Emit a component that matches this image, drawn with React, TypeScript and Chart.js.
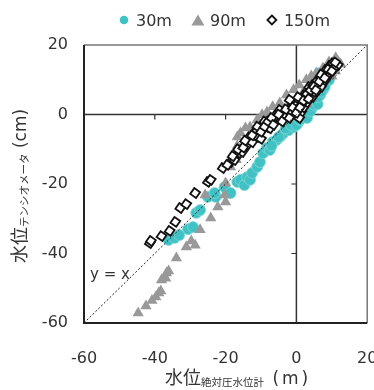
import React, { useEffect, useRef } from "react";
import { Chart, registerables } from "chart.js";

Chart.register(...registerables);

// ---- data ----
const xTicks = [-60, -40, -20, 0, 20];
const yTicks = [-60, -40, -20, 0, 20];
const seriesNames = ["30m", "90m", "150m"];

const x30 = [-36.1, -34.4, -33.1, -30.6, -29.2, -28.3, -27.2, -25.0, -22.8, -23.1, -20.3, -18.6, -16.7, -15.8, -14.7, -13.9, -13.1, -12.5, -11.1, -10.3, -9.4, -8.3, -7.5, -6.7, -5.6, -4.4, -3.6, -2.2, -0.8, 0.6, 1.9, 3.3, 4.7, 5.6, 6.7, 7.5, 8.3, 7.2, 6.4, 7.8, 9.2, -7.0, -5.0, -3.0, -1.5, 0.0, 1.0, 2.5, 3.0, 4.0, 5.0, 6.0, 6.0, 7.0, 8.0, 8.5];
const y30 = [-36.1, -35.5, -34.7, -33.0, -32.4, -28.3, -27.5, -23.7, -23.7, -22.6, -20.9, -22.6, -19.4, -18.8, -20.3, -18.0, -18.8, -16.8, -15.1, -13.7, -11.1, -9.6, -10.2, -7.9, -7.3, -6.2, -5.3, -4.5, -3.6, -2.2, -0.7, 0.7, 2.2, 4.2, 5.6, 7.1, 9.9, 11.1, 11.9, 12.2, 9.9, -9.0, -6.5, -4.0, -3.0, -3.0, -1.5, -0.5, -1.0, 1.0, 2.8, 3.0, 5.0, 6.5, 8.0, 13.0];

const x90 = [-44.7, -42.5, -40.8, -39.7, -38.9, -38.3, -38.1, -36.9, -36.7, -36.1, -33.9, -31.1, -29.7, -28.6, -27.2, -24.2, -22.2, -20.0, -25.8, -20.3, -20.0, -18.6, -17.0, -16.7, -16.7, -15.8, -14.4, -13.1, -11.1, -9.7, -8.3, -6.7, -4.7, -2.8, -0.8, 0.8, 2.8, 4.2, 5.6, 7.5, 9.2, 11.1, 11.9, 12.5, -14.0, -12.0, -12.0, -10.0, -8.0, -6.0, -4.0, -2.0, 0.0, 2.0, 4.0, 6.0, 8.0, 10.0, -3.0, 1.0, 3.0, 10.0, 11.0];
const y90 = [-57.1, -55.1, -53.5, -52.5, -51.4, -50.8, -47.6, -47.1, -45.6, -45.0, -41.3, -38.1, -36.4, -37.6, -33.2, -29.8, -26.6, -25.2, -23.2, -23.2, -19.7, -15.1, -13.0, -9.0, -6.5, -5.3, -3.9, -3.6, -1.6, -0.1, 0.7, 2.2, 3.3, 5.6, 7.1, 8.5, 10.0, 11.1, 11.9, 13.4, 15.1, 16.3, 15.1, 14.5, -8.0, -7.0, -5.0, -3.0, -1.5, 0.0, 1.5, 3.0, 4.5, 6.5, 8.5, 10.0, 11.5, 13.0, -1.0, 1.0, 3.0, 11.0, 12.5];

const x150 = [-41.4, -41.1, -38.1, -35.8, -34.2, -32.8, -31.1, -28.6, -25.0, -24.2, -20.8, -18.6, -17.5, -16.1, -15.3, -13.9, -13.3, -11.9, -11.1, -11.1, -9.7, -8.3, -6.9, -5.6, -4.4, -3.6, -2.2, -0.8, 0.0, 0.8, 2.2, 3.6, 4.7, 5.6, 6.9, 8.3, 9.4, 10.3, 11.7, -4.7, -1.9, 1.4, -4.2, 0.8, -1.5, 2.0, 3.0, 4.5, 6.0, 7.5, -7.5, -10.0, -12.5, -9.0, -6.0, -2.8, 1.5, 5.0, 7.0, 8.5, 9.0, 10.5, -19.5, -18.0, -16.5, -15.0, -14.5, -12.5, -11.0, -10.0, -9.0, -8.0, -7.0, -6.5, -5.0, -4.0, -3.0, -2.0, -1.0, 0.0, 0.5, 1.0, 2.0, 3.0, 3.5, 4.0, 5.0, 5.5, 6.5, 7.0, 8.0, 9.0, 10.0, 11.0];
const y150 = [-37.0, -36.4, -35.0, -33.5, -30.9, -26.9, -25.8, -22.6, -19.4, -18.8, -15.4, -13.7, -13.1, -11.1, -10.8, -8.8, -6.5, -5.3, -4.5, -6.5, -4.5, -3.6, -2.2, -1.6, -0.1, 0.4, 1.3, 3.3, 2.7, 4.2, 5.6, 7.9, 8.5, 9.4, 10.8, 12.8, 14.0, 14.8, 14.2, 1.3, 4.2, 0.7, -1.0, -1.0, 0.5, 2.0, 3.5, 5.0, 7.0, 9.0, -4.0, -7.0, -8.0, -2.0, -0.5, -0.5, 3.0, 6.5, 8.0, 10.5, 12.0, 13.0, -14.5, -12.0, -10.0, -9.5, -7.5, -6.0, -3.5, -5.0, -3.5, -2.0, -1.0, -3.0, 0.0, -2.0, 1.5, -1.0, 2.0, 0.5, 5.0, 2.0, 4.0, 6.0, 4.5, 7.0, 8.0, 7.0, 9.5, 11.5, 10.5, 13.0, 12.5, 15.0];

const C30 = "#40c2c4";
const C90 = "#999999";
const C150 = "#111111";
const TEXT = "#333333";
const LATIN = '"DejaVu Sans", "Noto Sans CJK JP", sans-serif';
const CJK = '"Noto Sans CJK JP", "DejaVu Sans", sans-serif';

const pts = (xs: number[], ys: number[]) => xs.map((x, i) => ({ x, y: ys[i] }));

const overlay = {
  id: "overlay",
  beforeDatasetsDraw(chart: any) {
    const { ctx, chartArea: a, scales } = chart;
    const sx = scales.x, sy = scales.y;
    const x0 = sx.getPixelForValue(0);
    const y0 = sy.getPixelForValue(0);
    ctx.save();
    ctx.strokeStyle = TEXT;
    ctx.lineWidth = 1.5;
    ctx.beginPath();
    ctx.moveTo(a.left, y0);
    ctx.lineTo(a.right, y0);
    ctx.moveTo(x0, a.top);
    ctx.lineTo(x0, a.bottom);
    ctx.stroke();
    ctx.lineWidth = 1.2;
    ctx.beginPath();
    for (const v of xTicks) {
      if (v === 0 || v <= sx.min || v >= sx.max) continue;
      const px = sx.getPixelForValue(v);
      ctx.moveTo(px, y0);
      ctx.lineTo(px, y0 + 5);
    }
    for (const v of yTicks) {
      if (v === 0 || v <= sy.min || v >= sy.max) continue;
      const py = sy.getPixelForValue(v);
      ctx.moveTo(x0 - 5, py);
      ctx.lineTo(x0, py);
    }
    ctx.stroke();
    ctx.restore();
  },
  afterDatasetsDraw(chart: any) {
    const { ctx, scales } = chart;
    const sx = scales.x, sy = scales.y;
    const lo = Math.max(sx.min, sy.min), hi = Math.min(sx.max, sy.max);
    ctx.save();
    ctx.strokeStyle = "#222";
    ctx.lineWidth = 1;
    ctx.setLineDash([2, 2]);
    ctx.beginPath();
    ctx.moveTo(sx.getPixelForValue(lo), sy.getPixelForValue(lo));
    ctx.lineTo(sx.getPixelForValue(hi), sy.getPixelForValue(hi));
    ctx.stroke();
    ctx.setLineDash([]);
    ctx.fillStyle = TEXT;
    ctx.font = `15px ${LATIN}`;
    ctx.textBaseline = "middle";
    ctx.textAlign = "left";
    ctx.fillText("y = x", sx.getPixelForValue(-58.3), sy.getPixelForValue(-46.2));
    ctx.restore();
  },
  afterDraw(chart: any) {
    const { ctx, chartArea: a } = chart;
    ctx.save();
    // frame
    ctx.lineWidth = 1.5;
    ctx.strokeStyle = "#777";
    ctx.beginPath();
    ctx.moveTo(a.left, a.top);
    ctx.lineTo(a.right, a.top);
    ctx.lineTo(a.right, a.bottom);
    ctx.stroke();
    ctx.strokeStyle = "#222";
    ctx.lineWidth = 2;
    ctx.beginPath();
    ctx.moveTo(a.left, a.top);
    ctx.lineTo(a.left, a.bottom);
    ctx.lineTo(a.right, a.bottom);
    ctx.stroke();

    // axis titles
    ctx.fillStyle = TEXT;
    ctx.textAlign = "left";
    ctx.textBaseline = "alphabetic";
    const parts = (main: string, sub: string, unit: string, spacing: string) => [
      { t: main, f: `18px ${CJK}`, dy: 0, ls: "0px" },
      { t: sub, f: `10.5px ${CJK}`, dy: 1.5, ls: "0px" },
      { t: unit, f: `17px ${LATIN}`, dy: 0, ls: spacing },
    ];
    const drawParts = (list: any[], x: number, y: number) => {
      let cx = x;
      for (const p of list) {
        ctx.font = p.f;
        (ctx as any).letterSpacing = p.ls;
        ctx.fillText(p.t, cx, y + p.dy);
        cx += ctx.measureText(p.t).width;
      }
      (ctx as any).letterSpacing = "0px";
    };
    // x title
    drawParts(parts("水位", "絶対圧水位計", " (m)", "3px"), 165, 384);
    // y title
    ctx.save();
    ctx.translate(26, 263);
    ctx.rotate(-Math.PI / 2);
    drawParts(parts("水位", "テンシオメータ", " (cm)", "0px"), 0, 0);
    ctx.restore();

    // legend
    const cy = 20;
    let tx = 136;
    ctx.font = `16px ${LATIN}`;
    ctx.textBaseline = "alphabetic";
    const styles = ["circle", "triangle", "diamond"];
    const colors = [C30, C90, C150];
    seriesNames.forEach((name, i) => {
      const mx = tx - 12;
      ctx.fillStyle = colors[i];
      ctx.strokeStyle = colors[i];
      ctx.beginPath();
      if (styles[i] === "circle") {
        ctx.arc(mx, cy, 4.3, 0, Math.PI * 2);
        ctx.fill();
      } else if (styles[i] === "triangle") {
        ctx.moveTo(mx, cy - 5.5);
        ctx.lineTo(mx + 6.5, cy + 5.5);
        ctx.lineTo(mx - 6.5, cy + 5.5);
        ctx.closePath();
        ctx.fill();
      } else {
        ctx.lineWidth = 1.8;
        ctx.moveTo(mx, cy - 4.5);
        ctx.lineTo(mx + 4.5, cy);
        ctx.lineTo(mx, cy + 4.5);
        ctx.lineTo(mx - 4.5, cy);
        ctx.closePath();
        ctx.fillStyle = "#fff";
        ctx.fill();
        ctx.stroke();
      }
      ctx.fillStyle = TEXT;
      ctx.font = `16px ${LATIN}`;
      ctx.fillText(name, tx, 25.5);
      tx += ctx.measureText(name).width + 38;
    });
    ctx.restore();
  },
};

export default function App() {
  const ref = useRef<HTMLCanvasElement | null>(null);
  useEffect(() => {
    document.body.style.margin = "0";
    if (!ref.current) return;
    const chart = new Chart(ref.current, {
      type: "scatter",
      data: {
        datasets: [
          {
            label: seriesNames[0],
            data: pts(x30, y30),
            pointStyle: "circle",
            pointRadius: 5.5,
            backgroundColor: C30,
            borderColor: "#7fd6d7",
            borderWidth: 0.8,
            order: 3,
          },
          {
            label: seriesNames[1],
            data: pts(x90, y90),
            pointStyle: "triangle",
            pointRadius: 6.5,
            backgroundColor: C90,
            borderColor: C90,
            borderWidth: 0,
            order: 2,
          },
          {
            label: seriesNames[2],
            data: pts(x150, y150),
            pointStyle: "rect",
            rotation: 35,
            pointRadius: 5,
            backgroundColor: "#ffffff",
            borderColor: C150,
            borderWidth: 1.8,
            order: 1,
          },
        ] as any,
      },
      options: {
        responsive: false,
        animation: false,
        layout: { padding: { top: 45, right: 2, left: 0, bottom: 0 } },
        plugins: {
          legend: { display: false },
          tooltip: { enabled: false },
        },
        scales: {
          x: {
            type: "linear",
            min: -60,
            max: 20,
            grid: { display: false },
            border: { display: false },
            ticks: {
              stepSize: 20,
              padding: 18,
              color: TEXT,
              font: { family: LATIN, size: 16 },
            },
            afterBuildTicks: (s: any) => {
              s.ticks = xTicks.map((v) => ({ value: v }));
            },
            afterFit: (s: any) => {
              s.height = 67;
              s.paddingLeft = 0;
              s.paddingRight = 0;
            },
          },
          y: {
            type: "linear",
            min: -60,
            max: 20,
            grid: { display: false },
            border: { display: false },
            ticks: {
              stepSize: 20,
              padding: 8,
              color: TEXT,
              font: { family: LATIN, size: 16 },
            },
            afterBuildTicks: (s: any) => {
              s.ticks = yTicks.map((v) => ({ value: v }));
            },
            afterFit: (s: any) => {
              s.width = 84;
              s.paddingTop = 0;
              s.paddingBottom = 0;
            },
          },
        } as any,
      },
      plugins: [overlay],
    });
    return () => chart.destroy();
  }, []);
  return <canvas ref={ref} width={374} height={390} />;
}
